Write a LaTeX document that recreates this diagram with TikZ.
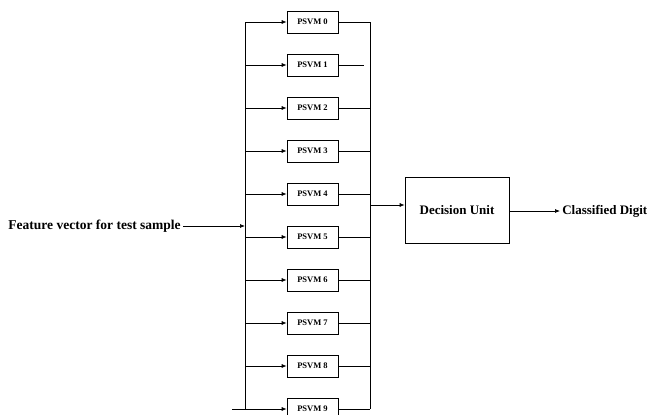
\documentclass[tikz,border=0pt]{standalone}
\usepackage{fontspec}
\setmainfont{Liberation Serif}
\usetikzlibrary{positioning, arrows.meta, calc}
\tikzset{
  >={Latex[length=5pt,width=4pt]},
  svmbox/.style={draw, minimum width=51pt, minimum height=22pt, inner sep=0pt, font=\bfseries\fontsize{8.5}{10}\selectfont},
  unitbox/.style={draw, minimum width=104pt, minimum height=66pt, font=\bfseries\fontsize{13}{15}\selectfont},
  txt/.style={inner sep=2pt, font=\bfseries\fontsize{13.5}{15}\selectfont},
}

\begin{document}
\begin{tikzpicture}[x=1pt, y=-1pt, line width=0.7pt]
  \useasboundingbox (0,0) rectangle (648,415);

  % the ten classifiers and their two buses
  \foreach \i in {0,...,9} {
    \node[svmbox] (svm\i) at (312.5, 22+43*\i) {PSVM \i};
    \coordinate (inL\i) at (245, 22+43*\i);
    \coordinate (outR\i) at (370, 22+43*\i);
    \draw[->] (inL\i) -- (svm\i.west);
  }
  \draw (inL0) -- (inL9);
  \draw (outR0) -- (outR9);
  \foreach \i in {0,2,3,4,5,6,7,8,9}
    \draw (svm\i.east) -- (outR\i);
  \coordinate (gap1) at (364, 65);
  \draw (svm1.east) -- (gap1);
  \coordinate (tail) at (232, 409);
  \draw (tail) -- (inL9);

  % input
  \node[txt, anchor=east] (feat) at (183, 226) {Feature vector for test sample};
  \coordinate (inbus) at (245, 226);
  \draw[->] (feat.east) -- (inbus);

  % decision
  \node[unitbox] (dec) at (457, 210) {Decision Unit};
  \coordinate (outmid) at (370, 205);
  \draw[->] (outmid) -- (outmid -| dec.west);
  \node[txt, anchor=west, font=\bfseries\fontsize{13}{15}\selectfont] (digit) at (560, 211) {Classified Digit};
  \draw[->] (dec.east |- digit.west) -- (digit.west);
\end{tikzpicture}
\end{document}
